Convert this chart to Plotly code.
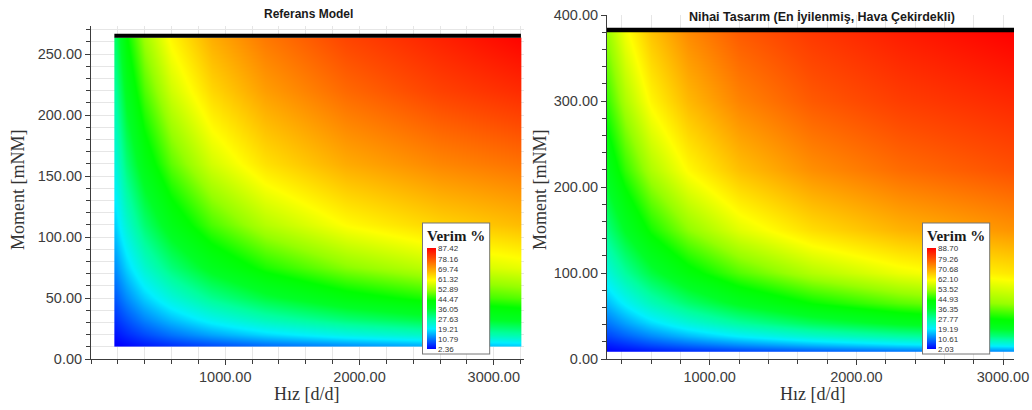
import plotly.graph_objects as go

W, H = 1032, 410

# ---------------- data: Referans Model ----------------
ref_speed = [176, 180, 260, 400, 600, 900, 1300, 1900, 2600, 3196, 3200]
ref_torque = [10.5, 11.5, 20, 32, 50, 75, 110, 160, 220, 262, 263]
ref_eff = [
    [2.1, 2.1, 3.0, 4.4, 6.1, 8.2, 10.6, 13.2, 15.8, 17.6, 17.6],
    [2.1, 2.1, 3.0, 4.4, 6.1, 8.2, 10.6, 13.2, 15.8, 17.6, 17.6],
    [3.7, 3.7, 5.3, 7.6, 10.5, 14.0, 17.7, 21.7, 25.0, 27.1, 27.1],
    [5.8, 5.8, 8.2, 11.7, 15.8, 20.7, 25.6, 30.7, 34.8, 37.3, 37.3],
    [8.8, 8.8, 12.3, 17.1, 22.7, 29.0, 34.9, 40.9, 45.4, 48.1, 48.1],
    [12.6, 12.6, 17.3, 23.7, 30.6, 38.0, 44.6, 50.9, 55.5, 58.2, 58.2],
    [17.4, 17.4, 23.5, 31.3, 39.3, 47.3, 54.2, 60.4, 64.7, 67.1, 67.1],
    [22.5, 22.5, 30.9, 39.8, 48.5, 56.6, 63.2, 68.9, 72.7, 74.8, 74.8],
    [28.0, 28.0, 38.1, 47.6, 56.4, 64.2, 70.3, 75.8, 80.0, 82.5, 82.5],
    [32.0, 32.0, 42.6, 52.3, 60.9, 68.4, 74.0, 79.5, 83.5, 86.8, 86.8],
    [32.0, 32.0, 42.6, 52.3, 60.9, 68.4, 74.0, 79.5, 83.5, 86.8, 86.8],
]
ref_limit_torque = 265
ref_cbar_vals = [87.42, 78.16, 69.74, 61.32, 52.89, 44.47, 36.05, 27.63, 19.21, 10.79, 2.36]
ref_yticks = [0, 50, 100, 150, 200, 250]

# ---------------- data: Nihai Tasarım ----------------
fin_speed = [300, 420, 600, 850, 1200, 1700, 2300, 3040]
fin_torque = [8.5, 9.5, 16, 27, 42, 65, 100, 150, 220, 300, 379, 380]
fin_eff = [
    [2.3, 3.0, 4.0, 5.4, 7.0, 8.9, 10.8, 12.6],
    [2.3, 3.0, 4.0, 5.4, 7.0, 8.9, 10.8, 12.6],
    [4.0, 5.4, 7.4, 9.6, 12.3, 15.3, 18.2, 20.8],
    [6.9, 9.1, 12.1, 15.6, 19.6, 23.9, 27.8, 31.2],
    [10.5, 13.7, 18.0, 22.8, 28.0, 33.3, 37.9, 41.8],
    [15.6, 20.0, 25.7, 31.7, 37.8, 43.9, 48.8, 52.8],
    [22.3, 28.1, 34.9, 41.8, 48.4, 54.7, 59.5, 63.3],
    [30.3, 37.1, 44.7, 51.9, 58.6, 64.5, 68.9, 72.2],
    [39.0, 46.5, 54.3, 61.4, 67.6, 72.8, 76.5, 79.3],
    [46.6, 54.2, 61.8, 68.4, 74.0, 78.5, 81.6, 84.0],
    [52.5, 60.0, 67.2, 73.3, 78.3, 82.2, 85.4, 88.5],
    [52.5, 60.0, 67.2, 73.3, 78.3, 82.2, 85.4, 88.5],
]
fin_limit_torque = 382.5
fin_cbar_vals = [88.70, 79.26, 70.68, 62.10, 53.52, 44.93, 36.35, 27.77, 19.19, 10.61, 2.03]
fin_yticks = [0, 100, 200, 300, 400]

x_ticks = [1000, 2000, 3000]

jet = [
    [0.00, "rgb(0,0,255)"],
    [0.10, "rgb(0,120,255)"],
    [0.20, "rgb(0,240,255)"],
    [0.30, "rgb(0,255,160)"],
    [0.40, "rgb(0,255,40)"],
    [0.48, "rgb(0,255,0)"],
    [0.58, "rgb(150,255,0)"],
    [0.68, "rgb(255,255,0)"],
    [0.79, "rgb(255,165,0)"],
    [0.90, "rgb(255,75,0)"],
    [1.00, "rgb(255,0,0)"],
]


def fx(px):
    return px / W


def fy(py):
    return 1 - py / H


def cbar(x_left, vals):
    return dict(
        x=fx(x_left), xanchor="left", y=fy(223), yanchor="top",
        lenmode="pixels", len=130, thicknessmode="pixels", thickness=9,
        xpad=4, ypad=4, bgcolor="white", bordercolor="#777777", borderwidth=1,
        outlinewidth=0,
        title=dict(text="<b>Verim %</b>", side="top",
                   font=dict(family="Liberation Serif", size=15, color="#1a1a1a")),
        tickvals=vals, ticktext=["%.2f" % v for v in vals], ticks="",
        tickfont=dict(family="Liberation Sans", size=8, color="#333333"),
    )


fig = go.Figure()
fig.add_trace(go.Heatmap(
    x=ref_speed, y=ref_torque, z=ref_eff, zsmooth="best",
    colorscale=jet, zmin=min(ref_cbar_vals), zmax=max(ref_cbar_vals),
    colorbar=cbar(423, ref_cbar_vals), hoverinfo="skip",
    xaxis="x", yaxis="y",
))
fig.add_trace(go.Scatter(
    x=[ref_speed[0] - 2, ref_speed[-1] + 2], y=[ref_limit_torque] * 2,
    mode="lines", line=dict(color="black", width=4), showlegend=False,
    hoverinfo="skip", xaxis="x", yaxis="y",
))
fig.add_trace(go.Heatmap(
    x=fin_speed, y=fin_torque, z=fin_eff, zsmooth="best",
    colorscale=jet, zmin=min(fin_cbar_vals), zmax=max(fin_cbar_vals),
    colorbar=cbar(923, fin_cbar_vals), hoverinfo="skip",
    xaxis="x2", yaxis="y2",
))
fig.add_trace(go.Scatter(
    x=[fin_speed[0], fin_speed[-1] + 60], y=[fin_limit_torque] * 2,
    mode="lines", line=dict(color="black", width=4.5), showlegend=False,
    hoverinfo="skip", xaxis="x2", yaxis="y2",
))

tickfont = dict(family="Liberation Sans", size=14.5, color="#3c3c3c")
grid = "#e6e6e6"
common = dict(
    showline=True, linecolor="#3c3c3c", linewidth=1, ticks="outside", ticklen=5,
    tickcolor="#3c3c3c", tickfont=tickfont, showgrid=True, gridcolor=grid,
    gridwidth=1, zeroline=False, automargin=False, tickformat=".2f",
    ticklabeloverflow="allow",
)

fig.update_layout(
    width=W, height=H, template="none",
    paper_bgcolor="white", plot_bgcolor="white",
    margin=dict(l=0, r=0, t=0, b=0, autoexpand=False),
    showlegend=False,
    xaxis=dict(common, domain=[fx(91), fx(524)], range=[0, 3225], tickvals=x_ticks,
               minor=dict(dtick=200, tick0=0, ticks="outside", ticklen=4,
                          tickcolor="#3c3c3c", showgrid=True, gridcolor=grid),
               anchor="y"),
    yaxis=dict(common, domain=[fy(359), fy(26)], range=[0, 273], tickvals=ref_yticks,
               minor=dict(dtick=10, tick0=0, ticks="outside", ticklen=4,
                          tickcolor="#3c3c3c", showgrid=True, gridcolor=grid),
               anchor="x"),
    xaxis2=dict(common, domain=[fx(607), fx(1014)], range=[300, 3075], tickvals=x_ticks,
                minor=dict(dtick=200, tick0=0, ticks="outside", ticklen=4,
                           tickcolor="#3c3c3c", showgrid=True, gridcolor=grid),
                anchor="y2"),
    yaxis2=dict(common, domain=[fy(359), fy(15)], range=[0, 400], tickvals=fin_yticks,
                minor=dict(dtick=20, tick0=0, ticks="outside", ticklen=4,
                           tickcolor="#3c3c3c", showgrid=True, gridcolor=grid),
                anchor="x2"),
)

title_font = dict(family="Liberation Sans", size=12, color="#1a1a1a")
label_font = dict(family="Liberation Serif", size=18, color="#333333")
ann = [
    dict(text="<b>Referans Model</b>", x=fx(308), y=fy(14), font=title_font),
    dict(text="<b>Nihai Tasarım (En İyilenmiş, Hava Çekirdekli)</b>", x=fx(822), y=fy(16),
         font=dict(title_font, size=12.5)),
    dict(text="Moment [mNM]", x=fx(18), y=fy(190), textangle=-90, font=label_font),
    dict(text="Moment [mNM]", x=fx(540), y=fy(190), textangle=-90, font=label_font),
    dict(text="Hız [d/d]", x=fx(306), y=fy(394), font=label_font),
    dict(text="Hız [d/d]", x=fx(812), y=fy(394), font=label_font),
]
for a in ann:
    fig.add_annotation(xref="paper", yref="paper", showarrow=False,
                       xanchor="center", yanchor="middle", **a)

fig.write_html("out.html")
